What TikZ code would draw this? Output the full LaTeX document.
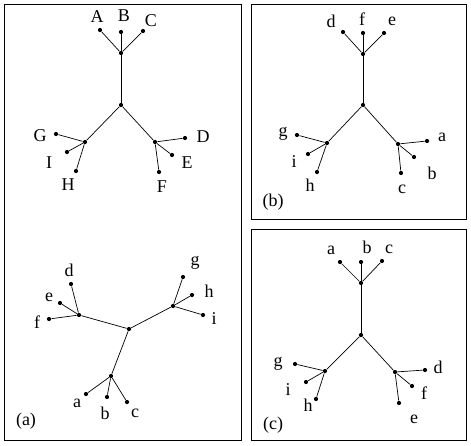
\documentclass[tikz,border=0pt]{standalone}
\usepackage{fontspec}
\setmainfont{Liberation Serif}
\usepackage{tikz}

\begin{document}
\begin{tikzpicture}[x=1pt, y=-1pt, line width=0.7pt,
  dot/.style = {circle, fill, inner sep=0pt, minimum size=4.2pt},
  lbl/.style = {inner sep=0pt, font=\fontsize{18}{20}\selectfont},
  panel/.style = {draw, line width=0.8pt}]
\useasboundingbox (0,0) rectangle (471,445);

% frames
\draw[panel] (4,4) rectangle (241,440);
\draw[panel] (251,4) rectangle (466,219);
\draw[panel] (251,229) rectangle (466,440);

% (a) upper tree
\node[dot] (t1) at (121,105) {};
\node[dot] (t2) at (121,53) {};
\node[dot] (t3) at (85,142) {};
\node[dot] (t4) at (155,142) {};
\node[dot] (A) at (100,30) {};
\node[dot] (B) at (121,32) {};
\node[dot] (C) at (143,31) {};
\node[dot] (G) at (56,134) {};
\node[dot] (I) at (67,152) {};
\node[dot] (H) at (76,171) {};
\node[dot] (D) at (185,138) {};
\node[dot] (E) at (172,155) {};
\node[dot] (F) at (159,172) {};
\node[lbl] (lA) at (97,17) {A};
\node[lbl] (lB) at (124,16) {B};
\node[lbl] (lC) at (151,21) {C};
\node[lbl] (lG) at (40,136) {G};
\node[lbl] (lI) at (49,163) {I};
\node[lbl] (lH) at (68,185) {H};
\node[lbl] (lD) at (203,137) {D};
\node[lbl] (lE) at (187,163) {E};
\node[lbl] (lF) at (162,187) {F};

\draw (t1)--(t2); \draw (t1)--(t3); \draw (t1)--(t4);
\draw (t2)--(A); \draw (t2)--(B); \draw (t2)--(C);
\draw (t3)--(G); \draw (t3)--(I); \draw (t3)--(H);
\draw (t4)--(D); \draw (t4)--(E); \draw (t4)--(F);

% (a) lower tree
\node[dot] (u1) at (129,329) {};
\node[dot] (u2) at (79,315) {};
\node[dot] (u3) at (173,306) {};
\node[dot] (u4) at (111,376) {};
\node[dot] (ud) at (71,284) {};
\node[dot] (ue) at (60,303) {};
\node[dot] (uf) at (49,319) {};
\node[dot] (ug) at (183,277) {};
\node[dot] (uh) at (192,295) {};
\node[dot] (ui) at (203,315) {};
\node[dot] (ua) at (86,394) {};
\node[dot] (ub) at (107,397) {};
\node[dot] (uc) at (127,402) {};
\node[lbl] (lud) at (69,270) {d};
\node[lbl] (lue) at (49,297) {e};
\node[lbl] (luf) at (37,322) {f};
\node[lbl] (lug) at (195,263) {g};
\node[lbl] (luh) at (209,291) {h};
\node[lbl] (lui) at (214,319) {i};
\node[lbl] (lua) at (77,403) {a};
\node[lbl] (lub) at (105,413) {b};
\node[lbl] (luc) at (135,413) {c};
\node[lbl] (capa) at (26,421) {(a)};

\draw (u1)--(u2); \draw (u1)--(u3); \draw (u1)--(u4);
\draw (u2)--(ud); \draw (u2)--(ue); \draw (u2)--(uf);
\draw (u3)--(ug); \draw (u3)--(uh); \draw (u3)--(ui);
\draw (u4)--(ua); \draw (u4)--(ub); \draw (u4)--(uc);

% (b)
\node[dot] (v1) at (363,105) {};
\node[dot] (v2) at (363,54) {};
\node[dot] (v3) at (327,143) {};
\node[dot] (v4) at (398,144) {};
\node[dot] (vd) at (343,32) {};
\node[dot] (vf) at (363,33) {};
\node[dot] (ve) at (384,33) {};
\node[dot] (vg) at (297,135) {};
\node[dot] (vi) at (308,154) {};
\node[dot] (vh) at (317,172) {};
\node[dot] (va) at (427,141) {};
\node[dot] (vb) at (414,157) {};
\node[dot] (vc) at (401,173) {};
\node[lbl] (lvd) at (331,21) {d};
\node[lbl] (lvf) at (362,19) {f};
\node[lbl] (lve) at (392,21) {e};
\node[lbl] (lvg) at (283,134) {g};
\node[lbl] (lvi) at (294,162) {i};
\node[lbl] (lvh) at (310,185) {h};
\node[lbl] (lva) at (442,137) {a};
\node[lbl] (lvb) at (432,173) {b};
\node[lbl] (lvc) at (402,189) {c};
\node[lbl] (capb) at (273,202) {(b)};

\draw (v1)--(v2); \draw (v1)--(v3); \draw (v1)--(v4);
\draw (v2)--(vd); \draw (v2)--(vf); \draw (v2)--(ve);
\draw (v3)--(vg); \draw (v3)--(vi); \draw (v3)--(vh);
\draw (v4)--(va); \draw (v4)--(vb); \draw (v4)--(vc);

% (c)
\node[dot] (w1) at (361,335) {};
\node[dot] (w2) at (361,283) {};
\node[dot] (w3) at (325,371) {};
\node[dot] (w4) at (395,372) {};
\node[dot] (wa) at (340,262) {};
\node[dot] (wb) at (361,262) {};
\node[dot] (wc) at (382,261) {};
\node[dot] (wg) at (295,364) {};
\node[dot] (wi) at (306,382) {};
\node[dot] (wh) at (316,399) {};
\node[dot] (wd) at (425,370) {};
\node[dot] (wf) at (412,386) {};
\node[dot] (we) at (399,403) {};
\node[lbl] (lwa) at (331,250) {a};
\node[lbl] (lwb) at (367,247) {b};
\node[lbl] (lwc) at (389,249) {c};
\node[lbl] (lwg) at (278,364) {g};
\node[lbl] (lwi) at (288,390) {i};
\node[lbl] (lwh) at (308,405) {h};
\node[lbl] (lwd) at (438,367) {d};
\node[lbl] (lwf) at (424,393) {f};
\node[lbl] (lwe) at (414,419) {e};
\node[lbl] (capc) at (273,425) {(c)};

\draw (w1)--(w2); \draw (w1)--(w3); \draw (w1)--(w4);
\draw (w2)--(wa); \draw (w2)--(wb); \draw (w2)--(wc);
\draw (w3)--(wg); \draw (w3)--(wi); \draw (w3)--(wh);
\draw (w4)--(wd); \draw (w4)--(wf); \draw (w4)--(we);

\end{tikzpicture}
\end{document}
